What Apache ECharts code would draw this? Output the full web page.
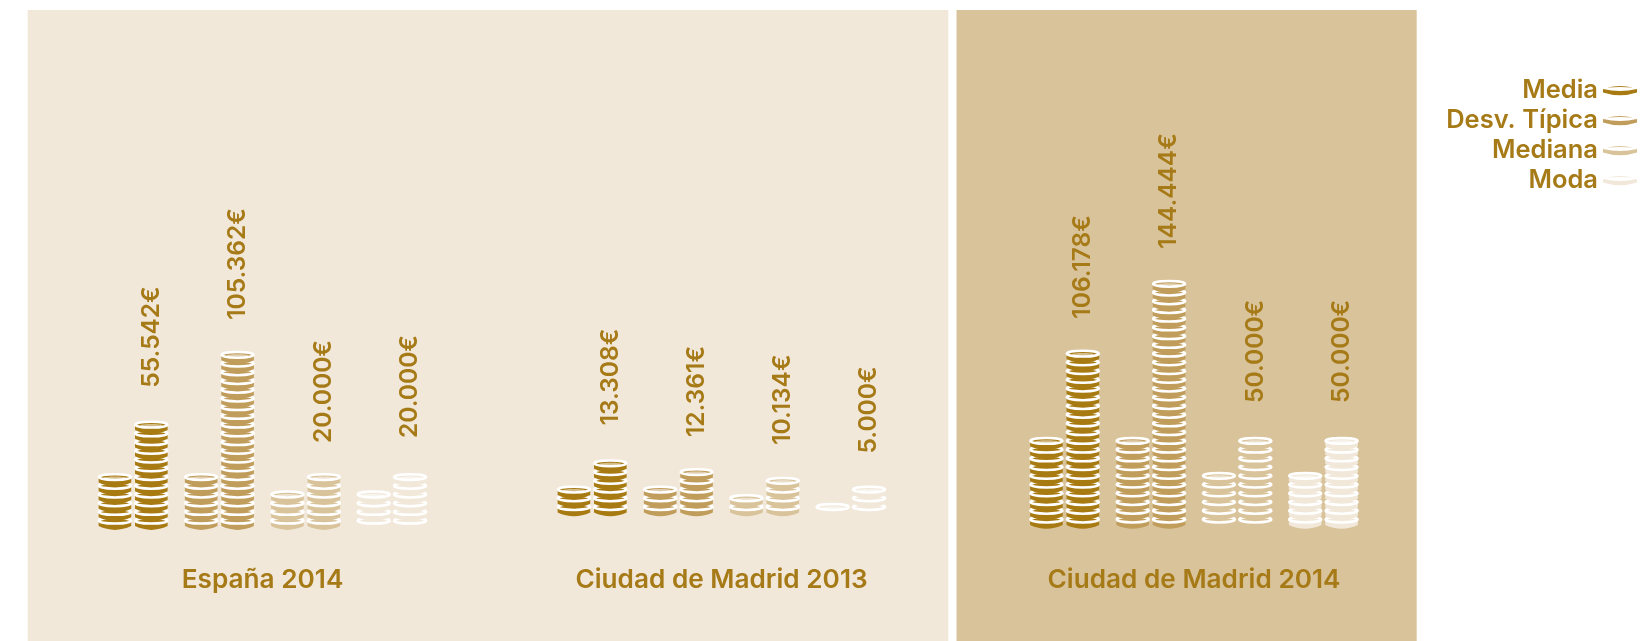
<!DOCTYPE html>
<html><head><meta charset="utf-8">
<style>html,body{margin:0;padding:0;background:#fff}#c{width:1643px;height:641px}</style>
<script src="https://cdn.jsdelivr.net/npm/echarts@6/dist/echarts.min.js"></script>
</head><body><div id="c"></div>
<script>
// ---- data ----
const statNames = ['Media', 'Desv. Típica', 'Mediana', 'Moda'];
const regionNames = ['España 2014', 'Ciudad de Madrid 2013', 'Ciudad de Madrid 2014'];
const euroEspana2014 = [55542, 105362, 20000, 20000];
const euroMadrid2013 = [13308, 12361, 10134, 5000];
const euroMadrid2014 = [106178, 144444, 50000, 50000];
const backCoinsEspana2014 = [6, 6, 4, 4];
const frontCoinsEspana2014 = [12, 20, 6, 6];
const backCoinsMadrid2013 = [3, 3, 2, 1];
const frontCoinsMadrid2013 = [6, 5, 4, 3];
const backCoinsMadrid2014 = [10, 10, 6, 6];
const frontCoinsMadrid2014 = [20, 28, 10, 10];

// ---- style / layout ----
const statColors = ['#a87a12', '#c19d5c', '#d9c39a', '#f1e8da'];
const ink = '#a67a17';
const font = 'Inter';
const pitch = 8.73, maxCoins = 46, plotH = maxCoins * pitch;
const regionData = [
  { left: 90, base: 520.7, lift: [37, 35, 34, 39], euro: euroEspana2014, back: backCoinsEspana2014, front: frontCoinsEspana2014 },
  { left: 549, base: 507, lift: [38, 35, 36, 36], euro: euroMadrid2013, back: backCoinsMadrid2013, front: frontCoinsMadrid2013 },
  { left: 1021.5, base: 519.5, lift: [35, 35, 38, 38], euro: euroMadrid2014, back: backCoinsMadrid2014, front: frontCoinsMadrid2014 }
];
const fmt = v => String(v).replace(/\B(?=(\d{3})+$)/g, '.') + '€';

function coin(cx, cy, color, top) {
  const w = 32.6, hw = w / 2, side = 5.4, depth = 9.2;
  const kids = [{
    type: 'path',
    shape: { pathData: `M${cx - hw},${cy} L${cx - hw},${cy + side} Q${cx},${cy + 2 * depth - side} ${cx + hw},${cy + side} L${cx + hw},${cy} Z` },
    style: { fill: color }
  }, {
    type: 'ellipse',
    shape: { cx: cx, cy: cy, rx: 16, ry: 2.9 },
    style: { fill: color, stroke: '#fff', lineWidth: 2.5 }
  }];
  if (top) kids.push({
    type: 'ellipse',
    shape: { cx: cx, cy: cy + 0.7, rx: 11, ry: 1.3 },
    style: { fill: 'rgba(255,255,255,0.5)' }
  });
  return kids;
}
function renderer(color, lift) {
  return function (params, api) {
    const cat = api.value(0), n = api.value(1), dir = api.value(2), euro = api.value(3);
    const x0 = api.coord([cat, 0])[0];
    const cx = x0 + dir * 18.2;
    const kids = [];
    for (let i = 0; i < n; i++) {
      kids.push.apply(kids, coin(cx, api.coord([cat, i])[1], color, i === n - 1));
    }
    if (dir > 0) {
      kids.push({
        type: 'text',
        x: cx, y: api.coord([cat, n - 1])[1] - lift,
        rotation: Math.PI / 2,
        style: { text: fmt(euro), font: '600 24.5px ' + font, fill: ink, align: 'left', verticalAlign: 'middle' }
      });
    }
    return { type: 'group', children: kids };
  };
}

const grid = [], xAxis = [], yAxis = [], series = [];
regionData.forEach((r, g) => {
  grid.push({ left: r.left, width: 345, top: r.base - plotH, height: plotH });
  xAxis.push({
    gridIndex: g, type: 'category', data: statNames,
    axisLine: { show: false }, axisTick: { show: false }, axisLabel: { show: false },
    name: regionNames[g], nameLocation: 'middle', nameGap: 580 - r.base - 13,
    nameTextStyle: { color: ink, fontFamily: font, fontWeight: 600, fontSize: 26.2 }
  });
  yAxis.push({ gridIndex: g, type: 'value', min: 0, max: maxCoins, show: false });
  statNames.forEach((name, s) => {
    series.push({
      type: 'custom', name, xAxisIndex: g, yAxisIndex: g, clip: false,
      itemStyle: { color: statColors[s] },
      renderItem: renderer(statColors[s], r.lift[s]),
      data: [[s, r.back[s], -1, r.euro[s]], [s, r.front[s], 1, r.euro[s]]],
      encode: { x: 0, y: 1 }
    });
  });
});

const coinIcon = 'path://M4,2 Q17,-1 30,2 Q17,1 4,2 Z M0,3.5 Q17,7.5 34,3.5 L34,7 Q17,12.5 0,7 Z';

const chart = echarts.init(document.getElementById('c'), null, { renderer: 'canvas' });
chart.setOption({
  animation: false,
  backgroundColor: '#fff',
  graphic: [
    { type: 'rect', z: -10, silent: true, shape: { x: 27.7, y: 10, width: 920.6, height: 631 }, style: { fill: '#f1e8da' } },
    { type: 'rect', z: -10, silent: true, shape: { x: 956.5, y: 10, width: 460.2, height: 631 }, style: { fill: '#d9c39a' } }
  ],
  grid, xAxis, yAxis, series,
  legend: {
    data: statNames, orient: 'vertical', align: 'right', right: 1, top: 72.5,
    itemWidth: 34, itemHeight: 11, itemGap: 4, icon: coinIcon, selectedMode: false,
    textStyle: { color: ink, fontFamily: font, fontWeight: 600, fontSize: 25.5, padding: [0, 0, 5, 0] }
  }
});
</script></body></html>
